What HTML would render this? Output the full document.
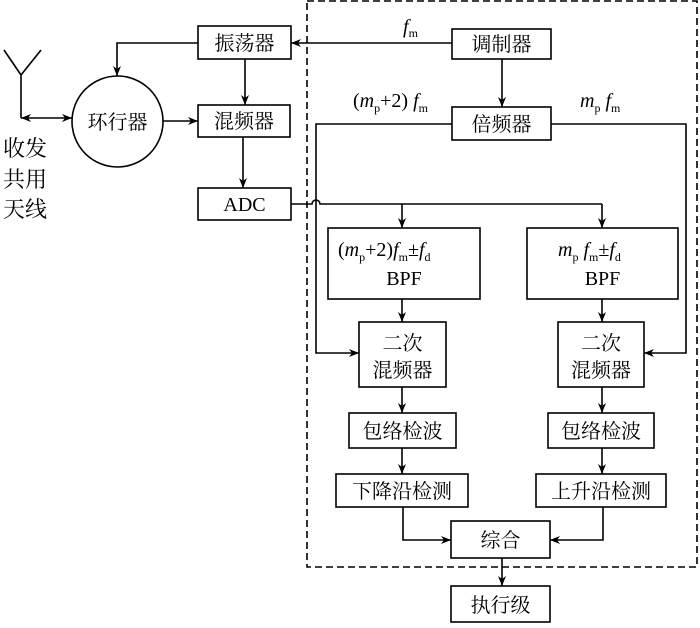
<!DOCTYPE html>
<html><head><meta charset="utf-8"><style>
body{margin:0;background:#fff}
svg text{font-family:"Liberation Serif","Noto Serif CJK SC","Noto Sans CJK SC",serif;fill:#000}
</style></head><body>
<svg width="700" height="623" viewBox="0 0 700 623" xmlns="http://www.w3.org/2000/svg">
<defs>
<marker id="a" viewBox="0 0 10 10" refX="10" refY="5" markerWidth="10" markerHeight="10" markerUnits="userSpaceOnUse" orient="auto-start-reverse"><path d="M0,1 L10,5 L0,9 L3,5 z" fill="#000"/></marker>
</defs>
<g fill="none" stroke="#000" stroke-width="1.6">
<rect x="307" y="1" width="390" height="566" stroke-dasharray="7,4"/>
<rect x="198" y="26" width="93" height="33"/>
<rect x="198" y="105" width="92" height="32"/>
<rect x="198" y="188" width="93" height="32"/>
<circle cx="117.5" cy="121.5" r="45.5"/>
<rect x="452" y="29" width="99" height="30"/>
<rect x="452" y="107" width="99" height="33"/>
<rect x="328" y="228" width="152" height="71"/>
<rect x="527" y="228" width="151" height="71"/>
<rect x="359" y="322" width="87" height="65"/>
<rect x="558" y="322" width="86" height="65"/>
<rect x="349" y="413" width="107" height="35"/>
<rect x="548" y="413" width="106" height="35"/>
<rect x="336" y="474" width="132" height="33"/>
<rect x="536" y="474" width="130" height="33"/>
<rect x="451" y="521" width="99" height="37"/>
<rect x="451" y="586" width="99" height="36"/>
<!-- antenna -->
<path d="M4,50 L21,75 L41,50 M21,75 L21,118"/>
<path d="M21,118 L72,118" marker-start="url(#a)" marker-end="url(#a)"/>
<path d="M163,121 L198,121" marker-end="url(#a)"/>
<path d="M198,43 L117,43 L117,76" marker-end="url(#a)"/>
<path d="M245,59 L245,105" marker-end="url(#a)"/>
<path d="M243,137 L243,188" marker-end="url(#a)"/>
<path d="M452,43 L291,43" marker-end="url(#a)"/>
<path d="M502,59 L502,107" marker-end="url(#a)"/>
<path d="M452,124 L316,124 L316,353 L359,353" marker-end="url(#a)"/>
<path d="M551,124 L686,124 L686,353 L644,353" marker-end="url(#a)"/>
<path d="M291,204 L312,204 A4,4 0 0 1 320,204 L602,204"/>
<path d="M402,204 L402,228" marker-end="url(#a)"/>
<path d="M602,204 L602,228" marker-end="url(#a)"/>
<path d="M402,299 L402,322" marker-end="url(#a)"/>
<path d="M602,299 L602,322" marker-end="url(#a)"/>
<path d="M402,387 L402,413" marker-end="url(#a)"/>
<path d="M602,387 L602,413" marker-end="url(#a)"/>
<path d="M402,448 L402,474" marker-end="url(#a)"/>
<path d="M602,448 L602,474" marker-end="url(#a)"/>
<path d="M403,507 L403,540 L451,540" marker-end="url(#a)"/>
<path d="M603,507 L603,540 L550,540" marker-end="url(#a)"/>
<path d="M502,558 L502,586" marker-end="url(#a)"/>
</g>
<g font-size="20" text-anchor="middle">
<text x="244.5" y="50">振荡器</text>
<text x="244" y="128">混频器</text>
<text x="244.5" y="211">ADC</text>
<text x="117.5" y="129">环行器</text>
<text x="501.5" y="51">调制器</text>
<text x="501.5" y="131">倍频器</text>
<text x="404" y="285">BPF</text>
<text x="602.5" y="285">BPF</text>
<text x="402.5" y="350">二次</text>
<text x="402.5" y="377">混频器</text>
<text x="601" y="350">二次</text>
<text x="601" y="377">混频器</text>
<text x="402.5" y="438">包络检波</text>
<text x="601" y="438">包络检波</text>
<text x="402" y="498">下降沿检测</text>
<text x="601" y="498">上升沿检测</text>
<text x="500.5" y="547">综合</text>
<text x="500.5" y="612">执行级</text>
</g>
<g font-size="22">
<text x="3" y="156">收发</text>
<text x="3" y="187">共用</text>
<text x="3" y="217">天线</text>
</g>
<g font-size="20">
<text x="403" y="33"><tspan font-style="italic">f</tspan><tspan font-size="12" dy="4">m</tspan></text>
<text x="353" y="107">(<tspan font-style="italic">m</tspan><tspan font-size="12" dy="5">p</tspan><tspan dy="-5">+2)</tspan><tspan font-style="italic"> f</tspan><tspan font-size="12" dy="5">m</tspan></text>
<text x="580" y="107"><tspan font-style="italic">m</tspan><tspan font-size="12" dy="5">p</tspan><tspan dy="-5" font-style="italic"> f</tspan><tspan font-size="12" dy="5">m</tspan></text>
<text x="338" y="256">(<tspan font-style="italic">m</tspan><tspan font-size="12" dy="5">p</tspan><tspan dy="-5">+2)</tspan><tspan font-style="italic">f</tspan><tspan font-size="12" dy="5">m</tspan><tspan dy="-5">±</tspan><tspan font-style="italic">f</tspan><tspan font-size="12" dy="5">d</tspan></text>
<text x="558" y="256"><tspan font-style="italic">m</tspan><tspan font-size="12" dy="5">p</tspan><tspan dy="-5" font-style="italic"> f</tspan><tspan font-size="12" dy="5">m</tspan><tspan dy="-5">±</tspan><tspan font-style="italic">f</tspan><tspan font-size="12" dy="5">d</tspan></text>
</g>
</svg>
</body></html>
